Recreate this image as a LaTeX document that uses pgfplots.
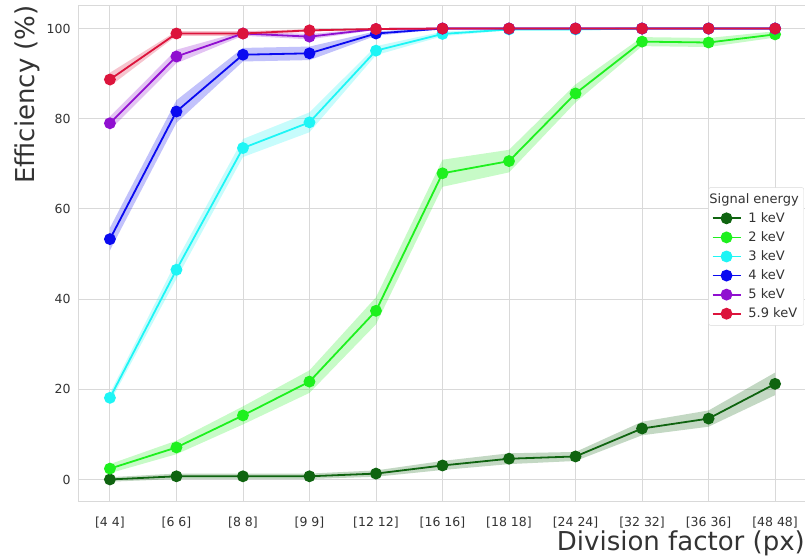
\documentclass[border=0pt]{standalone}
\usepackage{pgfplots}
\pgfplotsset{compat=1.18}
\usepackage{pgfplotstable}
\usepgfplotslibrary{fillbetween}
\usepackage{fontspec}
\setmainfont{DejaVu Sans}
\definecolor{cA}{HTML}{0F6410}
\definecolor{cB}{HTML}{1EF01E}
\definecolor{cC}{HTML}{1EF5F5}
\definecolor{cD}{HTML}{0A0AF0}
\definecolor{cE}{HTML}{9010D0}
\definecolor{cF}{HTML}{DC143C}
\definecolor{gridc}{HTML}{D9D9D9}
\definecolor{tickc}{HTML}{333333}

\pgfplotstableread{
x y1 e1 y2 e2 y3 e3 y4 e4 y5 e5 y6 e6
0 0.0 0.5 2.4 1.0 18.1 1.0 53.3 2.5 79.0 1.5 88.7 1.5
1 0.7 0.6 7.1 1.5 46.5 2.0 81.6 2.5 93.8 1.5 98.9 0.5
2 0.7 0.6 14.2 2.0 73.5 2.0 94.2 1.5 98.9 0.5 98.9 0.5
3 0.7 0.6 21.7 2.5 79.2 2.2 94.5 1.5 98.2 0.6 99.6 0.3
4 1.3 0.7 37.4 3.0 95.1 1.0 98.9 0.5 99.9 0.2 99.9 0.1
5 3.1 1.0 67.9 3.0 98.8 0.5 100 0.1 100 0.1 100 0.1
6 4.6 1.2 70.6 2.5 99.8 0.2 100 0.1 100 0.1 100 0.1
7 5.1 1.0 85.6 2.0 99.8 0.2 100 0.1 100 0.1 100 0.1
8 11.3 1.5 97.1 1.0 100 0.1 100 0.1 100 0.1 100 0.1
9 13.5 1.8 96.9 1.0 100 0.1 100 0.1 100 0.1 100 0.1
10 21.2 2.5 98.7 0.7 100 0.1 100 0.1 100 0.1 100 0.1
}\effdata

\newcommand{\band}[2]{%
  \addplot[draw=none, name path=u#1, forget plot] table[x=x, y expr=\thisrow{y#1}+\thisrow{e#1}]{\effdata};
  \addplot[draw=none, name path=l#1, forget plot] table[x=x, y expr=\thisrow{y#1}-\thisrow{e#1}]{\effdata};
  \addplot[fill=#2, fill opacity=0.25, draw=none, forget plot] fill between[of=u#1 and l#1];
}
\newcommand{\effseries}[3]{%
  \addplot[color=#2, line width=1.8pt, mark=*, mark size=5pt, mark options={solid}] table[x=x, y=y#1]{\effdata};
  \addlegendentry{#3}
}

\begin{document}
\begin{tikzpicture}
\begin{axis}[
  scale only axis,
  width=727pt, height=496pt,
  xmin=-0.48, xmax=10.45,
  ymin=-5, ymax=105,
  xtick={0,...,10},
  xticklabels={{[4 4]},{[6 6]},{[8 8]},{[9 9]},{[12 12]},{[16 16]},{[18 18]},{[24 24]},{[32 32]},{[36 36]},{[48 48]}},
  ytick={0,20,40,60,80,100},
  major tick length=0pt,
  grid=major,
  grid style={gridc, line width=0.9pt},
  axis line style={gridc, line width=1pt},
  tick label style={font=\fontsize{12.5}{14}\selectfont, color=tickc},
  /pgf/number format/assume math mode=true,
  xticklabel style={yshift=-11pt},
  yticklabel style={xshift=-4pt},
  xlabel={Division factor (px)},
  ylabel={Efficiency (\%)},
  xlabel style={at={(axis description cs:1,-0.0968)}, anchor=base east, inner sep=0pt, font=\fontsize{26}{30}\selectfont, color=tickc},
  ylabel style={at={(axis description cs:-0.0605,1.002)}, anchor=base east, inner sep=0pt, font=\fontsize{26}{30}\selectfont, color=tickc},
  legend style={at={(axis description cs:0.9986,0.495)}, anchor=east, font=\fontsize{13}{15}\selectfont, draw=gridc, fill=white, rounded corners=2pt, text=tickc, row sep=3.7pt, inner ysep=4pt},
  legend cell align=left,
  legend image code/.code={\draw[mark repeat=2, mark phase=2, line width=1.8pt, #1] plot coordinates {(0pt,0pt) (14pt,0pt) (28pt,0pt)}; \path (33pt,0pt);},
  clip=false,
]
\band{1}{cA}
\band{2}{cB}
\band{3}{cC}
\band{4}{cD}
\band{5}{cE}
\band{6}{cF}
\addlegendimage{empty legend}
\addlegendentry{\hspace*{-39pt}Signal energy}
\effseries{1}{cA}{1 keV}
\effseries{2}{cB}{2 keV}
\effseries{3}{cC}{3 keV}
\effseries{4}{cD}{4 keV}
\effseries{5}{cE}{5 keV}
\effseries{6}{cF}{5.9 keV}
\end{axis}
\pgfresetboundingbox
\useasboundingbox (-78pt,-54pt) rectangle (727pt,502pt);
\end{tikzpicture}
\end{document}
